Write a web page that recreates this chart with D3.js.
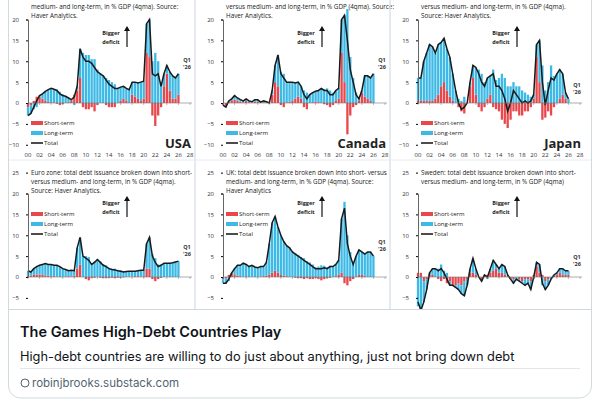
<!DOCTYPE html>
<html>
<head>
<meta charset="utf-8">
<script src="https://cdn.jsdelivr.net/npm/d3@7"></script>
<style>
  body { margin: 0; background: #fff; }
  svg { display: block; }
</style>
</head>
<body>
<svg id="card" width="600" height="406"></svg>
<script>
// half-year points 2000.0 .. 2026.0
var years = d3.range(0, 53).map(function(i) { return 2000 + i / 2; });

// total and short-term issuance, % GDP
var countries = [
  { name: 'USA', row: 0, col: 0,
    text: ['medium- and long-term, in % GDP (4qma). Source:', 'Haver Analytics.'],
    total: [-3,-2.5,-1,0.5,1.8,2.2,2.8,3.2,3.5,3.3,3,2.2,1.8,1.6,1.2,0.8,1.5,4,13,11,10,10,9.5,8.5,7.5,7,6.5,5.5,4.5,4,3.5,3.5,3.8,4,3.5,3.2,5,5,4.8,5,5.2,19,20,7,6.5,7,4,7,9,7.5,6.5,6,7],
    short: [-1,-0.5,0.5,1.5,1.5,1,0.5,0.3,0.2,0,-0.2,-0.5,-0.3,0,0.2,0.5,2,3,6,-1,-1.5,-1.5,-1,-2,-0.5,0,0,-0.5,-1,-1,-1,0,0.5,1,0.5,0,2,1.5,1,0.5,1,12,11,-3,-5.5,-3,-1,4,7,3,1,1,2] },
  { name: 'Canada', row: 0, col: 1,
    text: ['versus medium- and long-term, in % GDP (4qma). Source:', 'Haver Analytics.'],
    total: [-0.5,-1,0.5,1,1.8,1.2,0.8,0.5,1,0.5,0.3,0.8,0.8,0.2,0.5,0.3,0,3,9,11.5,7,6,5,5,5,4.8,5,4,2,1,2,2.5,2.8,3,3.5,3,3,2,2,3,3.5,20,21,15,8,5,2,1,3,6.5,6.5,6,7],
    short: [-0.5,-0.5,0.3,0.5,0.8,0.5,0.3,0.2,0.5,0.2,0.1,0.3,0.3,0,0.2,0.1,0,2,5,4,-0.5,-1,0.2,0.3,0.5,1,1.5,1,-1,-1.5,0,0.2,0.3,0.2,0,-0.3,-0.5,-1,-0.5,0.5,1,12,5,-7.5,-3,-1,-0.5,0.5,2.5,1.5,1,0.5,0] },
  { name: 'Japan', row: 0, col: 2,
    text: ['versus medium- and long-term, in % GDP (4qma).', 'Source: Haver Analytics.'],
    total: [6,6,10,12,14,13.5,12,14,14.5,15.5,13,11,7,3,0,-1.5,-1,0,5,9,8.5,7,5,4,6,6.5,7,4,4,3,1,-2,0,3,2,1,0,0.5,0,0.5,2,14,15,5,-0.5,3,6,5.5,7,8,7,2.5,1],
    short: [0.5,0.5,0.5,0.5,0.5,0.5,1,2,4,5,3,1.5,0.5,0,-1,-2,-2.5,0,4,6,2,-1,-2,-1,1,2,-1,-1.5,-2,-4,-5,-6,-4,-2,-2,-3,-3,-2,-2,-1,1,11,5,-4,-3.5,-2,-3,-1,0,1,2,1,0] },
  { name: 'Euro zone', row: 1, col: 0,
    text: ['Euro zone: total debt issuance broken down into short-', 'versus medium- and long-term, in % GDP (4qma).', 'Source: Haver Analytics.'],
    total: [1.5,1.2,2,2.5,2.8,3,3.2,3,3,2.8,2.8,2.5,2,1.8,1.5,1.6,1.5,7,9.5,5,4.5,4,3,3.5,4.2,3.5,2.8,2.5,2,1.8,1.7,1.5,1.4,1.2,1.3,1.4,1.4,1.4,1.5,1.6,1.6,8,9.5,5,3.5,2.5,2.8,3.3,3.3,3.3,3.4,3.6,3.8],
    short: [0.3,0.3,0.5,0.6,0.6,0.5,0.4,0.3,0.2,0.2,0.1,0,0,0.1,0.2,0.1,0.3,2,3,0,-0.5,-0.8,-0.3,-0.2,0,-0.2,-0.3,-0.3,-0.2,-0.2,-0.3,-0.2,-0.2,-0.1,0,0.1,0.1,0.2,0.2,0.1,0.2,2,2,-0.5,-1,-0.5,-0.2,0,0.1,0,0,0,0] },
  { name: 'UK', row: 1, col: 1,
    text: ['UK: total debt issuance broken down into short- versus', 'medium- and long-term, in % GDP (4qma). Source:', 'Haver Analytics'],
    total: [-1.5,-1.5,-0.5,1,2,2.8,2.8,3.3,3,2.5,2.8,2.4,2.2,2.5,2.5,3.5,8,13,14.5,12,10,8.5,7.5,7,6,5.5,5,4.5,4,3.5,3,2.5,2,2,2,2.2,2,2.5,2.5,3,4,14,16.5,8,5,3,5,6.5,6,5.5,6,6,5],
    short: [-0.5,-0.3,0.5,1,0.5,0.3,0.2,0.1,0,0,0.1,0,0,0.1,0.2,0.3,0.5,1,1.5,1,0.5,0.3,0.2,0,0,-0.2,-0.3,-0.3,-0.5,-0.3,-0.5,-0.5,-0.3,-0.5,-0.8,-0.5,-0.3,-0.2,0,0.2,0.5,1,-1.5,-2,-1,-0.5,0,0.5,0.5,0.3,0,0,0] },
  { name: 'Sweden', row: 1, col: 2,
    text: ['Sweden: total debt issuance broken down into short-', 'versus medium- and long-term, in % GDP (4qma)'],
    total: [-6,-8,-6,-3,1,2,2,1.5,2,1,-0.5,-2,-2,-2.5,-3,-4,-4.5,-2,2,4.5,2,0,-1,0.5,0,2,4,3,2,3,2.5,0.5,-0.5,-1.5,-0.5,-1,-1.5,-2,-1.5,-3,0,3.5,3,-1.5,-3,-2,-0.5,0.5,1,2,2,1.5,1.5],
    short: [1,1,-1,-0.5,0.5,0.5,0,-0.5,-1,-0.5,-1.5,-1,-2,-2,-1.5,-2,-1,-0.5,1,1,0.5,0,-0.5,0.5,0.5,1,1.5,2,1,1,0.5,0,-0.5,-0.5,0,-0.5,-1,-0.5,-0.5,-1,0.5,2.5,1,0.5,-1,-0.5,0,0.3,0.5,1,0.5,0.5,0.5] }
];

var svg = d3.select('#card');
var font = '"Open Sans", "Liberation Sans", sans-serif';

// card outline
svg.append('rect').attr('x', 8.5).attr('y', -20).attr('width', 583).attr('height', 418)
  .attr('rx', 12).attr('fill', '#fff').attr('stroke', '#cfd9de');

var img = svg.append('g');
svg.append('clipPath').attr('id', 'imgClip')
  .append('rect').attr('x', 9).attr('y', 0).attr('width', 582).attr('height', 309);
img.attr('clip-path', 'url(#imgClip)');

var panelW = 195;
var rowZero = [103, 277];

countries.forEach(function(c) {
  var ox = c.col * panelW + 0;
  var g = img.append('g').attr('transform', 'translate(' + ox + ',0)');

  var x = d3.scaleLinear().domain([2000, 2028]).range([28, 190]);
  var y = d3.scaleLinear().domain([0, 20]).range([rowZero[c.row], rowZero[c.row] - 83.5]);

  var rows = years.map(function(yr, i) {
    return { year: yr, short: c.short[i], long: c.total[i] - c.short[i], total: c.total[i] };
  });
  var series = d3.stack().keys(['short', 'long']).offset(d3.stackOffsetDiverging)(rows);
  var colors = { short: '#e8474b', long: '#3cb9e5' };
  var bw = x(2000.5) - x(2000) - 0.6;

  series.forEach(function(s) {
    g.selectAll('.b' + s.key).data(s).enter().append('rect')
      .attr('x', function(d) { return x(d.data.year) - bw / 2; })
      .attr('width', bw)
      .attr('y', function(d) { return y(Math.max(d[0], d[1])); })
      .attr('height', function(d) { return Math.abs(y(d[0]) - y(d[1])); })
      .attr('fill', colors[s.key]);
  });

  g.append('path').datum(rows)
    .attr('d', d3.line().x(function(d) { return x(d.year); }).y(function(d) { return y(d.total); }))
    .attr('fill', 'none').attr('stroke', '#1a1a1a').attr('stroke-width', 1.5);

  // axes
  var yAxis = d3.axisLeft(y).tickValues(c.row === 0 ? [-10, -5, 0, 5, 10, 15, 20] : [-5, 0, 5, 10, 15, 20, 25])
    .tickSize(2).tickFormat(d3.format('d'));
  var ya = g.append('g').attr('transform', 'translate(28,0)').call(yAxis);
  ya.select('.domain').attr('stroke', '#666');
  ya.selectAll('text').attr('font-size', 6).attr('font-family', font).attr('fill', '#333').attr('dx', -4);

  g.append('line').attr('x1', 28).attr('x2', 192).attr('y1', y(0)).attr('y2', y(0)).attr('stroke', '#777').attr('stroke-width', 0.6);
  g.selectAll('.xt').data(d3.range(2000, 2029, 2)).enter().append('line')
    .attr('x1', function(d) { return x(d); }).attr('x2', function(d) { return x(d); })
    .attr('y1', y(0)).attr('y2', y(0) + 2).attr('stroke', '#777').attr('stroke-width', 0.5);
  if (c.row === 0) {
    g.selectAll('.xl').data(d3.range(2000, 2029, 2)).enter().append('text')
      .attr('x', function(d) { return x(d); }).attr('y', 157).attr('text-anchor', 'middle')
      .attr('font-size', 6).attr('font-family', font).attr('fill', '#333')
      .text(function(d) { return String(d).slice(2); });
  }

  // note text
  var top = c.row === 0 ? 9 : 175;
  c.text.forEach(function(t, i) {
    g.append('text').attr('x', 31).attr('y', top + i * 9).attr('font-size', 6.3)
      .attr('font-family', font).attr('fill', '#222').text(t);
  });

  // "Bigger deficit" arrow
  var ay = c.row === 0 ? 35 : 205;
  g.append('text').attr('x', 111).attr('y', ay).attr('text-anchor', 'middle').attr('font-size', 5.5)
    .attr('font-weight', 'bold').attr('font-family', font).attr('fill', '#222').text('Bigger');
  g.append('text').attr('x', 111).attr('y', ay + 9).attr('text-anchor', 'middle').attr('font-size', 5.5)
    .attr('font-weight', 'bold').attr('font-family', font).attr('fill', '#222').text('deficit');
  g.append('line').attr('x1', 127).attr('x2', 127).attr('y1', ay + 12).attr('y2', ay - 5)
    .attr('stroke', '#111').attr('stroke-width', 1.2);
  g.append('path').attr('d', 'M124,' + (ay - 4) + 'L127,' + (ay - 9) + 'L130,' + (ay - 4) + 'Z').attr('fill', '#111');

  // Q1 '26 label
  var last = rows[rows.length - 1];
  g.append('text').attr('x', 187).attr('y', y(last.total) - 12).attr('text-anchor', 'middle')
    .attr('font-size', 5.5).attr('font-weight', 'bold').attr('font-family', font).attr('fill', '#333').text('Q1');
  g.append('text').attr('x', 187).attr('y', y(last.total) - 5).attr('text-anchor', 'middle')
    .attr('font-size', 5.5).attr('font-weight', 'bold').attr('font-family', font).attr('fill', '#333').text("'26");

  // legend
  var ly = c.row === 0 ? 125 : 216;
  var items = [['Short-term', '#e8474b', 'rect'], ['Long-term', '#3cb9e5', 'rect'], ['Total', '#111', 'line']];
  items.forEach(function(it, i) {
    var yy = ly + i * 10;
    if (it[2] === 'rect') {
      g.append('rect').attr('x', 31).attr('y', yy - 4).attr('width', 12).attr('height', 4).attr('fill', it[1]);
    } else {
      g.append('line').attr('x1', 31).attr('x2', 43).attr('y1', yy - 2).attr('y2', yy - 2).attr('stroke', it[1]).attr('stroke-width', 1.5);
    }
    g.append('text').attr('x', 44).attr('y', yy).attr('font-size', 6).attr('font-family', font)
      .attr('fill', '#222').text(it[0]);
  });

  if (c.row === 0) {
    g.append('text').attr('x', 191).attr('y', 148).attr('text-anchor', 'end').attr('font-size', 13)
      .attr('font-weight', 'bold').attr('font-family', font).attr('fill', '#222').text(c.name);
  }

  if (c.col < 2) {
    g.append('line').attr('x1', panelW).attr('x2', panelW).attr('y1', 0).attr('y2', 310)
      .attr('stroke', '#dde3ea').attr('stroke-width', 1);
  }
});
img.append('line').attr('x1', 9).attr('x2', 591).attr('y1', 160).attr('y2', 160)
  .attr('stroke', '#e6ebf0').attr('stroke-width', 1);

// card text
svg.append('line').attr('x1', 9).attr('x2', 591).attr('y1', 309.5).attr('y2', 309.5).attr('stroke', '#cfd9de');
svg.append('text').attr('x', 20).attr('y', 337).attr('font-size', 14.5).attr('font-weight', 600)
  .attr('font-family', 'Inter, "Noto Sans", sans-serif').attr('fill', '#0f1419').text('The Games High-Debt Countries Play');
svg.append('text').attr('x', 20).attr('y', 361).attr('font-size', 12.8)
  .attr('font-family', 'Inter, "Noto Sans", sans-serif').attr('fill', '#0f1419')
  .text('High-debt countries are willing to do just about anything, just not bring down debt');
svg.append('line').attr('x1', 20).attr('x2', 580).attr('y1', 368.5).attr('y2', 368.5).attr('stroke', '#e1e8ed');
svg.append('circle').attr('cx', 25).attr('cy', 383).attr('r', 4).attr('fill', 'none').attr('stroke', '#536471').attr('stroke-width', 1);
svg.append('text').attr('x', 32).attr('y', 387).attr('font-size', 11.5)
  .attr('font-family', 'Inter, "Noto Sans", sans-serif').attr('fill', '#536471').text('robinjbrooks.substack.com');
</script>
</body>
</html>
